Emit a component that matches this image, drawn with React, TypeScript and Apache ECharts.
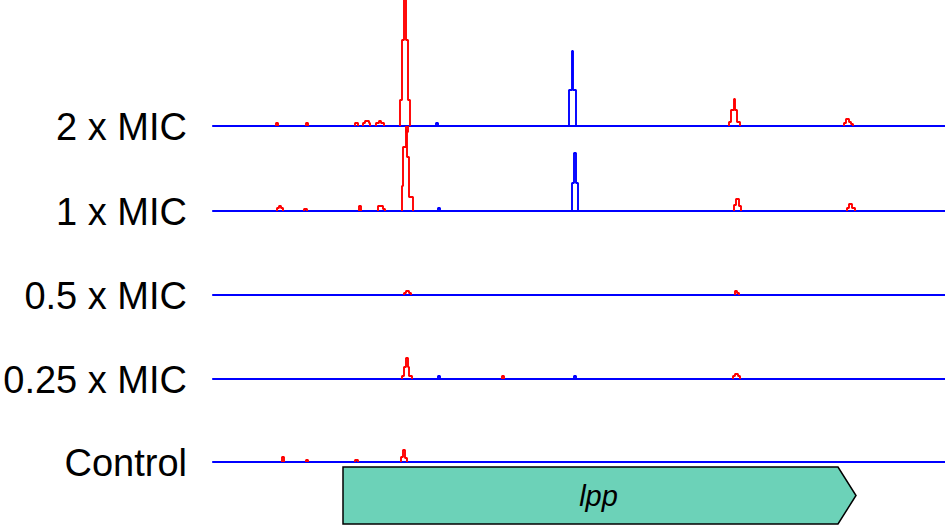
import React, { useEffect, useRef } from "react";
import * as echarts from "echarts";

type Bin = [number, number, number]; // [start, end, height]

// Track names, top to bottom
const trackNames: string[] = ["2 x MIC", "1 x MIC", "0.5 x MIC", "0.25 x MIC", "Control"];

// Genome window (relative positions)
const posMin = 0;
const posMax = 732;

// Red (+) coverage peaks per track
const red2x: Bin[][] = [
  [[63, 65, 3]],
  [[93, 95, 3]],
  [[142, 145, 3]],
  [[150, 152, 3], [152, 156, 5], [156, 157, 3]],
  [[163, 166, 3], [166, 168, 5], [168, 171, 3]],
  [[187, 189, 26], [189, 191, 86], [191, 193, 140], [193, 195, 86], [195, 197, 26]],
  [[193, 195, -6]],
  [[516, 518, 4], [518, 521, 16], [521, 522, 27], [522, 524, 16], [524, 527, 4]],
  [[631, 633, 3], [633, 636, 7], [636, 638, 4], [638, 640, 2]],
];
const blue2x: Bin[][] = [
  [[223, 225, 3]],
  [[356, 359, 36], [359, 360, 75], [360, 363, 36]],
];

const red1x: Bin[][] = [
  [[64, 66, 3], [66, 68, 5], [68, 70, 3]],
  [[91, 94, 2]],
  [[146, 148, 5]],
  [[165, 170, 5], [170, 172, 2]],
  [[189, 190, 25], [190, 193, 64], [193, 194, 81], [194, 196, 54], [196, 200, 14]],
  [[521, 523, 6], [523, 524, 12], [524, 526, 12], [526, 528, 5]],
  [[634, 636, 3], [636, 639, 7], [639, 642, 3]],
];
const blue1x: Bin[][] = [
  [[225, 227, 3]],
  [[359, 361, 28], [361, 363, 58], [363, 365, 28]],
];

const red05x: Bin[][] = [
  [[191, 193, 2], [193, 196, 4], [196, 198, 2]],
  [[522, 524, 4], [524, 526, 2]],
];
const blue05x: Bin[][] = [];

const red025x: Bin[][] = [
  [[189, 191, 3], [191, 193, 12], [193, 195, 21], [195, 196, 12], [196, 199, 3]],
  [[289, 291, 3]],
  [[520, 522, 3], [522, 525, 5], [525, 527, 3]],
];
const blue025x: Bin[][] = [
  [[225, 227, 3]],
  [[361, 363, 3]],
];

const redControl: Bin[][] = [
  [[69, 71, 5]],
  [[93, 95, 2]],
  [[142, 145, 2]],
  [[188, 190, 5], [190, 192, 12], [192, 194, 4]],
];
const blueControl: Bin[][] = [];

const redTracks: Bin[][][] = [red2x, red1x, red05x, red025x, redControl];
const blueTracks: Bin[][][] = [blue2x, blue1x, blue05x, blue025x, blueControl];

// Gene annotation
const geneName = "lpp";
const geneStart = 130;
const geneEnd = 643;

// Layout
const baselines = [126, 211, 295, 379, 462];
const plotLeft = 213;
const yMaxVal = 126;
const yMinVal = -10;

function outline(groups: Bin[][]): any[] {
  const pts: any[] = [];
  groups.forEach((g, gi) => {
    if (gi > 0) pts.push([g[0][0], "-"]);
    pts.push([g[0][0], 0]);
    g.forEach((b) => {
      pts.push([b[0], b[2]]);
      pts.push([b[1], b[2]]);
    });
    pts.push([g[g.length - 1][1], 0]);
  });
  return pts;
}

export default function App() {
  const ref = useRef<HTMLDivElement>(null);
  useEffect(() => {
    if (!ref.current) return;
    const chart = echarts.init(ref.current, undefined, { renderer: "svg" });
    const grids: any[] = [];
    const xAxes: any[] = [];
    const yAxes: any[] = [];
    const series: any[] = [];
    const graphics: any[] = [];

    baselines.forEach((b, i) => {
      grids.push({ left: plotLeft, right: 0, top: b - yMaxVal, height: yMaxVal - yMinVal });
      xAxes.push({
        type: "value", gridIndex: i, min: posMin, max: posMax,
        axisLine: { show: true, onZero: true, lineStyle: { color: "#0000ff", width: 2.2 } },
        axisTick: { show: false }, axisLabel: { show: false }, splitLine: { show: false },
      });
      yAxes.push({
        type: "value", gridIndex: i, min: yMinVal, max: yMaxVal, show: false,
        splitLine: { show: false },
      });
      series.push({
        type: "line", xAxisIndex: i, yAxisIndex: i, data: outline(blueTracks[i]),
        showSymbol: false, connectNulls: false, z: 3,
        lineStyle: { color: "#0000ff", width: 1.9 },
      });
      series.push({
        type: "line", xAxisIndex: i, yAxisIndex: i, data: outline(redTracks[i]),
        showSymbol: false, connectNulls: false, z: 4,
        lineStyle: { color: "#ff0000", width: 1.9 },
      });
      graphics.push({
        type: "text", x: 187, y: b + 1,
        style: {
          text: trackNames[i], align: "right", verticalAlign: "middle",
          fontSize: 38, fontFamily: "Liberation Sans, Arial, sans-serif", fill: "#000",
        },
      });
    });

    const gi = baselines.length;
    grids.push({ left: plotLeft, right: 0, top: 467, height: 57 });
    xAxes.push({
      type: "value", gridIndex: gi, min: posMin, max: posMax, show: false,
    });
    yAxes.push({ type: "value", gridIndex: gi, min: 0, max: 1, show: false });
    series.push({
      type: "custom", xAxisIndex: gi, yAxisIndex: gi,
      data: [[geneStart, geneEnd]],
      renderItem: (params: any, api: any) => {
        const p0 = api.coord([api.value(0), 1]);
        const p1 = api.coord([api.value(1), 0]);
        const top = p0[1], bot = p1[1], x0 = p0[0], x1 = p1[0];
        const mid = (top + bot) / 2;
        const head = 18;
        return {
          type: "group",
          children: [
            {
              type: "polygon",
              shape: { points: [[x0, top], [x1 - head, top], [x1, mid], [x1 - head, bot], [x0, bot]] },
              style: { fill: "#6cd2b8", stroke: "#000", lineWidth: 1.5 },
            },
            {
              type: "text",
              style: {
                text: geneName, x: (x0 + x1) / 2 - 1, y: mid, align: "center", verticalAlign: "middle",
                fontSize: 29, fontStyle: "italic", fontFamily: "Liberation Sans, Arial, sans-serif", fill: "#000",
              },
            },
          ],
        };
      },
    });

    chart.setOption({
      animation: false,
      backgroundColor: "#ffffff",
      grid: grids,
      xAxis: xAxes,
      yAxis: yAxes,
      series,
      graphic: graphics,
    });
    return () => chart.dispose();
  }, []);
  return (
    <div
      ref={ref}
      style={{ position: "fixed", left: 0, top: 0, width: 945, height: 526 }}
    />
  );
}
